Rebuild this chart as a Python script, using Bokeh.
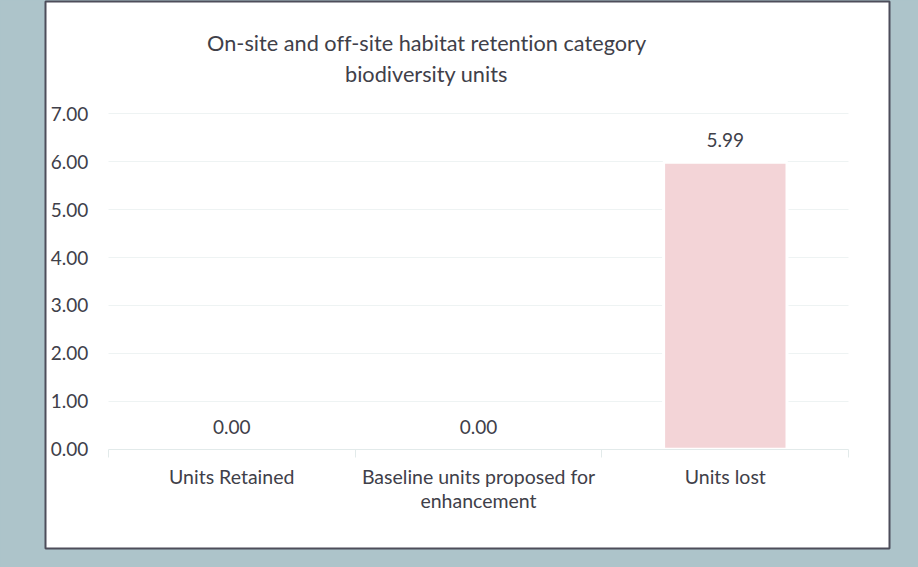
from bokeh.plotting import figure
from bokeh.models import (Range1d, LinearAxis, FixedTicker, PrintfTickFormatter,
                          Grid, Label, GlobalInlineStyleSheet)
from bokeh.core.properties import value
from bokeh.embed import file_html
from bokeh.resources import INLINE

# ---- data ----
categories = ["Units Retained", "Baseline units proposed for\nenhancement", "Units lost"]
units = [0.00, 0.00, 5.99]
y_ticks = [0, 1, 2, 3, 4, 5, 6, 7]
title_lines = ["On-site and off-site habitat retention category", "biodiversity units"]

positions = [i + 0.5 for i in range(len(categories))]
boundaries = list(range(len(categories) + 1))

FONT = "Lato"
TEXT = "#404049"
BG = "#adc4ca"
AXIS = "#e2eaea"
GRID = "#eef3f3"

css = ("html,body{margin:0;padding:0;background:#adc4ca;overflow:hidden;"
       "font-variant-ligatures:none;font-feature-settings:'liga' 0,'clig' 0,'dlig' 0;}")

p = figure(width=918, height=567, output_backend="svg", toolbar_location=None,
           x_axis_location=None, y_axis_location=None,
           x_range=Range1d(-0.2545, 3.1653), y_range=Range1d(-2.0727, 9.345),
           min_border_left=45, min_border_right=29, min_border_top=1, min_border_bottom=19,
           background_fill_color="white", border_fill_color=BG,
           outline_line_color="#4d4d5a", outline_line_width=2,
           stylesheets=[GlobalInlineStyleSheet(css=css)])
p.center = [r for r in p.center if not isinstance(r, Grid)]

# grid lines
ygrid = Grid(dimension=1, ticker=FixedTicker(ticks=y_ticks[1:], minor_ticks=[]),
             grid_line_color=GRID, grid_line_width=1)
if "cross_bounds" in Grid.properties():
    ygrid.cross_bounds = (boundaries[0], boundaries[-1])
    p.add_layout(ygrid, "center")
else:
    p.segment(x0=[boundaries[0]] * (len(y_ticks) - 1), x1=[boundaries[-1]] * (len(y_ticks) - 1),
              y0=y_ticks[1:], y1=y_ticks[1:], line_color=GRID, line_width=1)

# bars
p.vbar(x=positions, top=units, bottom=0, width=0.5,
       fill_color="#f3d4d7", line_color="white", line_width=3)

# value labels
p.text(x=positions, y=units, text=[f"{v:.2f}" for v in units],
       text_align="center", text_baseline="middle", y_offset=-22,
       text_font=value(FONT), text_font_size="19px", text_color=TEXT)

# y axis
yaxis = LinearAxis(fixed_location=0,
                   ticker=FixedTicker(ticks=y_ticks, minor_ticks=[]),
                   formatter=PrintfTickFormatter(format="%.2f"),
                   axis_line_color=None, major_tick_line_color=None,
                   minor_tick_line_color=None, major_tick_out=0, major_tick_in=0,
                   major_label_standoff=20, major_label_text_font=FONT,
                   major_label_text_font_size="19px", major_label_text_color=TEXT)
p.add_layout(yaxis, "left")

# x axis
xaxis = LinearAxis(fixed_location=0, bounds=(boundaries[0], boundaries[-1]),
                   ticker=FixedTicker(ticks=positions, minor_ticks=boundaries),
                   major_label_overrides={pos: cat for pos, cat in zip(positions, categories)},
                   axis_line_color=AXIS, axis_line_width=1,
                   major_tick_line_color=None, major_tick_out=0, major_tick_in=0,
                   minor_tick_line_color=AXIS, minor_tick_in=0, minor_tick_out=8,
                   major_label_standoff=8, major_label_text_font=FONT,
                   major_label_text_font_size="19.5px", major_label_text_color=TEXT,
                   major_label_text_line_height=1.05)
p.add_layout(xaxis, "below")

# title
for txt, yy in zip(title_lines, [8.489, 7.842]):
    p.add_layout(Label(x=1.289, y=yy, text=txt, text_align="center", text_baseline="middle",
                       text_font=FONT, text_font_size="21.7px", text_color=TEXT))

open("out.html", "w").write(file_html(p, INLINE))
